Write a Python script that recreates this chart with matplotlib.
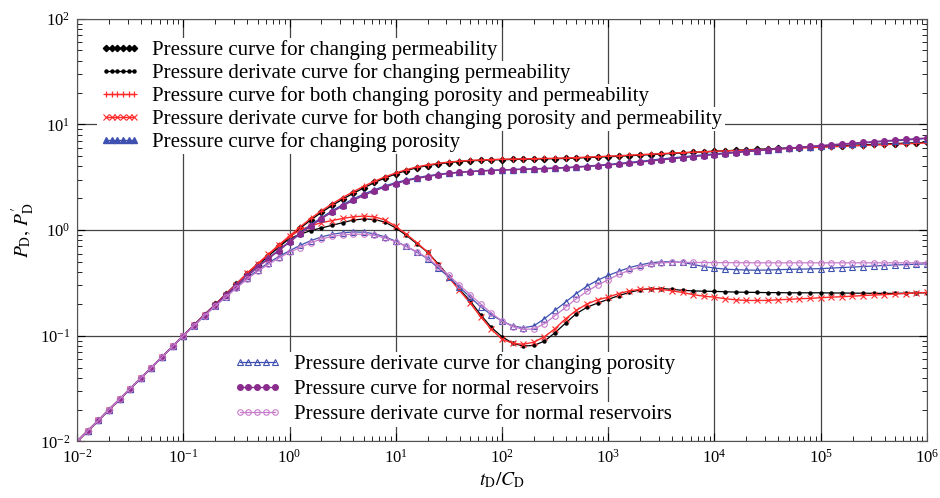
import numpy as np
import matplotlib
matplotlib.use('Agg')
from matplotlib import pyplot as plt

plt.rcParams['font.family'] = ['Liberation Serif', 'DejaVu Serif']
plt.rcParams['mathtext.fontset'] = 'stix'

# dimensionless time tD/CD, 10 samples per log cycle
td = np.logspace(-2, 6, 81)

# changing permeability
p_perm = [0.0100, 0.0126, 0.0158, 0.0200, 0.0251, 0.0316, 0.0398, 0.0501, 0.0631, 0.0794, 0.100,
          0.126, 0.158, 0.198, 0.248, 0.31, 0.385, 0.47, 0.57, 0.70,
          0.85, 1.04, 1.25, 1.47, 1.71, 1.96, 2.23, 2.51, 2.82, 3.12,
          3.40, 3.66, 3.90, 4.08, 4.23, 4.35, 4.45, 4.52, 4.57, 4.61,
          4.64, 4.66, 4.68, 4.70, 4.72, 4.74, 4.77, 4.81, 4.85, 4.90,
          4.95, 5.00, 5.06, 5.12, 5.18, 5.24, 5.31, 5.37, 5.44, 5.50,
          5.56, 5.62, 5.68, 5.74, 5.80, 5.86, 5.92, 5.98, 6.04, 6.10,
          6.16, 6.22, 6.28, 6.34, 6.40, 6.46, 6.52, 6.58, 6.64, 6.70, 6.76]
d_perm = [0.0100, 0.0126, 0.0158, 0.0200, 0.0251, 0.0316, 0.0398, 0.0501, 0.0631, 0.0794, 0.100,
          0.126, 0.158, 0.195, 0.243, 0.302, 0.385, 0.468, 0.569, 0.692,
          0.832, 0.912, 0.989, 1.047, 1.109, 1.175, 1.245, 1.274, 1.259, 1.189,
          1.047, 0.891, 0.741, 0.617, 0.479, 0.363, 0.275, 0.214, 0.158, 0.120,
          0.098, 0.085, 0.080, 0.081, 0.089, 0.107, 0.132, 0.162, 0.186, 0.204,
          0.221, 0.240, 0.257, 0.272, 0.279, 0.280, 0.275, 0.269, 0.266, 0.264,
          0.263, 0.261, 0.259, 0.258, 0.257, 0.256, 0.256, 0.255, 0.255, 0.255,
          0.255, 0.254, 0.254, 0.253, 0.253, 0.252, 0.252, 0.252, 0.253, 0.254, 0.255]

# changing porosity and permeability together
p_both = [0.0100, 0.0126, 0.0158, 0.0200, 0.0251, 0.0316, 0.0398, 0.0501, 0.0631, 0.0794, 0.100,
          0.126, 0.158, 0.198, 0.248, 0.31, 0.39, 0.48, 0.585, 0.72,
          0.88, 1.07, 1.29, 1.52, 1.77, 2.03, 2.31, 2.60, 2.90, 3.19,
          3.47, 3.73, 3.96, 4.14, 4.28, 4.40, 4.49, 4.56, 4.61, 4.65,
          4.68, 4.70, 4.72, 4.74, 4.76, 4.78, 4.81, 4.85, 4.90, 4.95,
          5.00, 5.05, 5.11, 5.17, 5.23, 5.29, 5.35, 5.41, 5.46, 5.51,
          5.56, 5.61, 5.66, 5.71, 5.76, 5.81, 5.86, 5.91, 5.96, 6.01,
          6.07, 6.13, 6.19, 6.25, 6.31, 6.37, 6.43, 6.49, 6.55, 6.61, 6.68]
d_both = [0.0100, 0.0126, 0.0158, 0.0200, 0.0251, 0.0316, 0.0398, 0.0501, 0.0631, 0.0794, 0.100,
          0.126, 0.158, 0.197, 0.245, 0.305, 0.389, 0.479, 0.589, 0.724,
          0.871, 1.000, 1.096, 1.175, 1.230, 1.288, 1.334, 1.358, 1.334, 1.245,
          1.084, 0.912, 0.759, 0.617, 0.468, 0.355, 0.269, 0.204, 0.151, 0.115,
          0.093, 0.085, 0.083, 0.087, 0.098, 0.117, 0.145, 0.174, 0.200, 0.219,
          0.232, 0.251, 0.266, 0.275, 0.279, 0.275, 0.266, 0.257, 0.245, 0.237,
          0.232, 0.224, 0.219, 0.216, 0.216, 0.216, 0.219, 0.221, 0.224, 0.226,
          0.229, 0.232, 0.234, 0.237, 0.240, 0.243, 0.245, 0.248, 0.251, 0.254, 0.257]

# changing porosity
p_poro = [0.0100, 0.0126, 0.0158, 0.0200, 0.0251, 0.0316, 0.0398, 0.0501, 0.0631, 0.0794, 0.100,
          0.126, 0.157, 0.196, 0.244, 0.30, 0.37, 0.45, 0.54, 0.65,
          0.78, 0.94, 1.12, 1.31, 1.52, 1.74, 1.97, 2.19, 2.41, 2.62,
          2.81, 2.98, 3.13, 3.26, 3.37, 3.46, 3.53, 3.59, 3.64, 3.68,
          3.71, 3.74, 3.77, 3.80, 3.83, 3.87, 3.91, 3.96, 4.03, 4.10,
          4.18, 4.27, 4.37, 4.47, 4.58, 4.70, 4.81, 4.93, 5.04, 5.15,
          5.26, 5.36, 5.46, 5.56, 5.66, 5.76, 5.86, 5.96, 6.06, 6.16,
          6.26, 6.36, 6.47, 6.57, 6.68, 6.79, 6.90, 7.01, 7.12, 7.23, 7.34]
d_poro = [0.0100, 0.0126, 0.0158, 0.0200, 0.0251, 0.0316, 0.0398, 0.0501, 0.0631, 0.0794, 0.100,
          0.124, 0.155, 0.191, 0.234, 0.288, 0.351, 0.417, 0.490, 0.562,
          0.638, 0.716, 0.794, 0.861, 0.912, 0.944, 0.959, 0.955, 0.923, 0.861,
          0.785, 0.700, 0.617, 0.537, 0.437, 0.359, 0.288, 0.232, 0.188, 0.158,
          0.138, 0.124, 0.119, 0.124, 0.145, 0.174, 0.209, 0.251, 0.295, 0.335,
          0.372, 0.407, 0.442, 0.468, 0.490, 0.501, 0.501, 0.495, 0.473, 0.452,
          0.437, 0.427, 0.422, 0.419, 0.417, 0.419, 0.422, 0.425, 0.427, 0.429,
          0.432, 0.437, 0.442, 0.447, 0.452, 0.457, 0.462, 0.468, 0.471, 0.475, 0.479]

# normal reservoir
p_norm = [0.0100, 0.0126, 0.0158, 0.0200, 0.0251, 0.0316, 0.0398, 0.0501, 0.0631, 0.0794, 0.100,
          0.126, 0.157, 0.196, 0.243, 0.298, 0.365, 0.445, 0.535, 0.64,
          0.77, 0.92, 1.09, 1.28, 1.48, 1.69, 1.91, 2.13, 2.35, 2.56,
          2.75, 2.93, 3.08, 3.21, 3.33, 3.43, 3.51, 3.57, 3.62, 3.66,
          3.70, 3.73, 3.76, 3.78, 3.81, 3.84, 3.88, 3.93, 3.99, 4.06,
          4.13, 4.21, 4.30, 4.40, 4.50, 4.61, 4.72, 4.83, 4.94, 5.06,
          5.17, 5.28, 5.40, 5.51, 5.62, 5.74, 5.85, 5.96, 6.07, 6.19,
          6.30, 6.41, 6.53, 6.64, 6.75, 6.87, 6.98, 7.09, 7.20, 7.32, 7.43]
d_norm = [0.0100, 0.0126, 0.0158, 0.0200, 0.0251, 0.0316, 0.0398, 0.0501, 0.0631, 0.0794, 0.100,
          0.124, 0.155, 0.191, 0.232, 0.282, 0.343, 0.407, 0.473, 0.543,
          0.617, 0.684, 0.759, 0.822, 0.871, 0.902, 0.916, 0.912, 0.891, 0.841,
          0.776, 0.700, 0.624, 0.543, 0.452, 0.372, 0.302, 0.245, 0.200, 0.164,
          0.138, 0.122, 0.115, 0.116, 0.130, 0.155, 0.186, 0.224, 0.263, 0.302,
          0.339, 0.380, 0.417, 0.447, 0.473, 0.490, 0.495, 0.495, 0.494, 0.493,
          0.492, 0.492, 0.491, 0.491, 0.490, 0.490, 0.490, 0.490, 0.490, 0.490,
          0.490, 0.490, 0.490, 0.490, 0.490, 0.490, 0.490, 0.490, 0.490, 0.490, 0.490]

labels_top = ['Pressure curve for changing permeability',
              'Pressure derivate curve for changing permeability',
              'Pressure curve for both changing porosity and permeability',
              'Pressure derivate curve for both changing porosity and permeability',
              'Pressure curve for changing porosity']
labels_bottom = ['Pressure derivate curve for changing porosity',
                 'Pressure curve for normal reservoirs',
                 'Pressure derivate curve for normal reservoirs']

blue = '#3f51b0'
purple = '#8a2c8e'
lilac = '#c77ccb'

fig = plt.figure(figsize=(9.4, 4.98), dpi=100)
ax = fig.add_axes([0.082, 0.1135, 0.904, 0.849])

h1, = ax.plot(td, p_perm, color='black', lw=1.0, marker='D', ms=3.2)
h2, = ax.plot(td, d_perm, color='black', lw=0.9, marker='o', ms=2.2)
h3, = ax.plot(td, p_both, color='#ff2a2a', lw=1.0, marker='+', ms=5, mew=0.9)
h4, = ax.plot(td, d_both, color='#ff2a2a', lw=1.0, marker='x', ms=3.8, mew=0.8)
h5, = ax.plot(td, p_poro, color=blue, lw=1.0, marker='^', ms=4)
h6, = ax.plot(td, d_poro, color=blue, lw=0.9, marker='^', ms=4, mfc='none', mew=0.8)
h7, = ax.plot(td, p_norm, color=purple, lw=1.0, marker='o', ms=4)
h8, = ax.plot(td, d_norm, color=lilac, lw=0.9, marker='o', ms=4, mfc='none', mew=0.8)

ax.set_xscale('log')
ax.set_yscale('log')
ax.set_xlim(1e-2, 1e6)
ax.set_ylim(1e-2, 1e2)
ax.set_xticks([10.0 ** k for k in range(-2, 7)])
ax.set_yticks([10.0 ** k for k in range(-2, 3)])

ax.grid(True, which='major', color='#444444', lw=0.9)
ax.tick_params(which='both', direction='in', top=True, right=True, labelsize=12, pad=5)
ax.tick_params(which='major', length=6)
ax.tick_params(which='minor', length=3.5)
for s in ax.spines.values():
    s.set_color('#555555')

ax.set_xlabel(r'$t_{\mathrm{D}}/C_{\mathrm{D}}$', fontsize=14, labelpad=3)
ax.set_ylabel(r"$P_{\mathrm{D}},\, P^{\prime}_{\mathrm{D}}$", fontsize=14, labelpad=2)


# one small legend per row, each on its own white strip so the grid stops behind it
def legend_rows(handles, labels, x0, y0, dy, hlen, pad, npts):
    for i, (h, lab) in enumerate(zip(handles, labels)):
        lg = ax.legend([h], [lab], loc='center left', bbox_to_anchor=(x0, y0 - i * dy),
                       frameon=True, facecolor='white', edgecolor='none', framealpha=1,
                       fancybox=False, fontsize=15, numpoints=npts, handlelength=hlen,
                       handletextpad=pad, borderpad=0.12, borderaxespad=0)
        lg.set_zorder(10 - i)
        ax.add_artist(lg)


legend_rows([h1, h2, h3, h4, h5], labels_top, 0.024, 0.926, 0.0544, 1.95, 0.55, 6)
legend_rows([h6, h7, h8], labels_bottom, 0.181, 0.182, 0.059, 2.3, 0.6, 5)

fig.savefig('out.png', dpi=100)
